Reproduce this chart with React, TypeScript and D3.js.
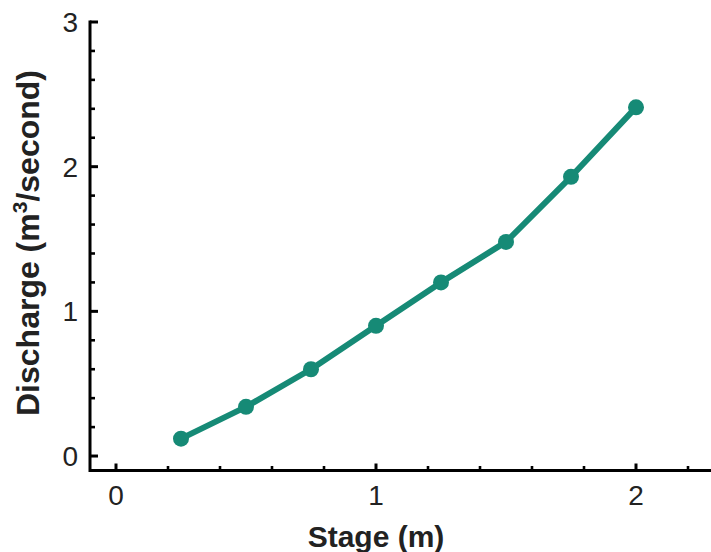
import React from "react";
import * as d3 from "d3";

const stage = [0.25, 0.5, 0.75, 1.0, 1.25, 1.5, 1.75, 2.0];
const discharge = [0.12, 0.34, 0.6, 0.9, 1.2, 1.48, 1.93, 2.41];
const xMajorTicks = [0, 1, 2];
const yMajorTicks = [0, 1, 2, 3];
const xMinorTicks = [0.2, 0.4, 0.6, 0.8, 1.2, 1.4, 1.6, 1.8, 2.2];
const yMinorTicks = [0.2, 0.4, 0.6, 0.8, 1.2, 1.4, 1.6, 1.8, 2.2, 2.4, 2.6, 2.8];

const W = 711;
const H = 552;
const TEAL = "#168a76";
const FONT = "'Liberation Sans', Arial, Helvetica, sans-serif";

export default function App() {
  const x = d3.scaleLinear().domain([-0.1, 2.3]).range([90, 714]);
  const y = d3.scaleLinear().domain([-0.1, 3]).range([470.5, 22]);
  const pts = stage.map((s, i) => [s, discharge[i]] as [number, number]);
  const line = d3
    .line<[number, number]>()
    .x((d) => x(d[0]))
    .y((d) => y(d[1]));

  const x0 = x(-0.1);
  const y0 = y(-0.1);

  return (
    <>
      <style>{`body{margin:0}`}</style>
      <svg width={W} height={H} style={{ display: "block", background: "#fff" }}>
        {/* axes */}
        <line x1={x0} x2={W + 5} y1={y0} y2={y0} stroke="#000" strokeWidth={3} />
        <line x1={x0} x2={x0} y1={y(3) - 1.5} y2={y0 + 1.5} stroke="#000" strokeWidth={3} />
        {xMajorTicks.map((t) => (
          <line key={"xm" + t} x1={x(t)} x2={x(t)} y1={y0} y2={y0 - 7} stroke="#000" strokeWidth={3} />
        ))}
        {xMinorTicks.map((t) => (
          <line key={"xn" + t} x1={x(t)} x2={x(t)} y1={y0} y2={y0 - 4.5} stroke="#000" strokeWidth={2.6} />
        ))}
        {yMajorTicks.map((t) => (
          <line key={"ym" + t} x1={x0} x2={x0 + 8} y1={y(t)} y2={y(t)} stroke="#000" strokeWidth={3} />
        ))}
        {yMinorTicks.map((t) => (
          <line key={"yn" + t} x1={x0} x2={x0 + 5} y1={y(t)} y2={y(t)} stroke="#000" strokeWidth={2.6} />
        ))}
        {xMajorTicks.map((t) => (
          <text key={"xl" + t} x={x(t)} y={505} textAnchor="middle" fontFamily={FONT} fontSize={28} fill="#222">
            {t}
          </text>
        ))}
        {yMajorTicks.map((t) => (
          <text key={"yl" + t} x={78} y={y(t)} dy="0.36em" textAnchor="end" fontFamily={FONT} fontSize={28} fill="#222">
            {t}
          </text>
        ))}
        {/* axis titles */}
        <text x={x(1)} y={547} textAnchor="middle" fontFamily={FONT} fontSize={30} fontWeight="bold" fill="#222">
          Stage (m)
        </text>
        <text
          transform={`translate(39, 243) rotate(-90)`}
          textAnchor="middle"
          fontFamily={FONT}
          fontSize={32}
          fontWeight="bold"
          fill="#222"
        >
          Discharge (m
          <tspan fontSize={21} dy={-12}>3</tspan>
          <tspan dy={12}>/second)</tspan>
        </text>
        {/* data */}
        <path d={line(pts) || ""} fill="none" stroke={TEAL} strokeWidth={6} strokeLinejoin="round" />
        {pts.map((d, i) => (
          <circle key={i} cx={x(d[0])} cy={y(d[1])} r={8} fill={TEAL} />
        ))}
      </svg>
    </>
  );
}
